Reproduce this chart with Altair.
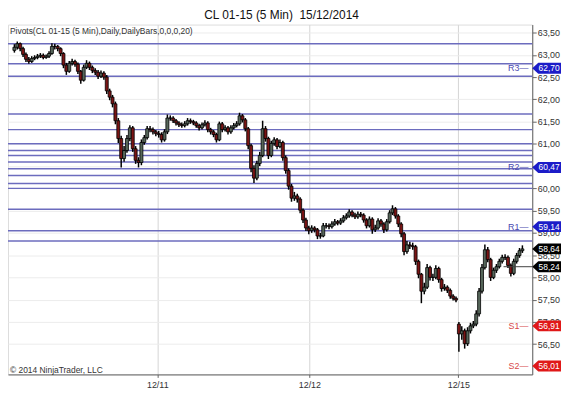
import altair as alt
import pandas as pd

# ---------------- data ----------------
closes = [
    63.17, 63.25, 63.14, 63.01, 62.90, 62.85, 62.92, 62.94, 62.97, 62.99,
    62.94, 62.97, 63.03, 63.19, 63.19, 63.14, 63.03, 62.77, 62.63, 62.81,
    62.85, 62.79, 62.63, 62.43, 62.72, 62.81, 62.72, 62.65, 62.61, 62.52,
    62.59, 62.50, 62.19, 62.05, 61.90, 61.52, 61.12, 60.67, 60.85, 61.12,
    61.36, 60.89, 60.63, 60.58, 61.03, 61.14, 61.34, 61.32, 61.27, 61.23,
    61.21, 61.09, 61.27, 61.58, 61.58, 61.52, 61.47, 61.43, 61.41, 61.45,
    61.52, 61.50, 61.47, 61.41, 61.36, 61.43, 61.47, 61.32, 61.27, 61.21,
    61.09, 61.45, 61.32, 61.36, 61.27, 61.36, 61.41, 61.45, 61.63, 61.54,
    61.34, 60.96, 60.45, 60.23, 60.56, 60.74, 61.34, 61.12, 60.74, 61.01,
    61.09, 60.94, 61.03, 60.69, 60.40, 60.05, 59.78, 59.83, 59.76, 59.51,
    59.29, 59.11, 59.05, 59.11, 59.07, 58.93, 58.93, 59.16, 59.16, 59.14,
    59.20, 59.25, 59.22, 59.27, 59.34, 59.38, 59.47, 59.40, 59.36, 59.42,
    59.40, 59.29, 59.16, 59.31, 59.07, 59.11, 59.27, 59.20, 59.07, 59.25,
    59.45, 59.54, 59.38, 59.20, 58.98, 58.58, 58.73, 58.71, 58.69, 58.36,
    58.07, 57.69, 57.78, 58.22, 58.00, 58.00, 58.20, 57.95, 57.75, 57.78,
    57.71, 57.58, 57.53, 57.49, 56.73, 56.80, 56.51, 56.80, 56.91, 56.95,
    57.18, 57.69, 58.22, 58.62, 58.40, 58.00, 58.16, 58.24, 58.36, 58.45,
    58.45, 58.27, 58.09, 58.36, 58.49, 58.60, 58.64,
]
highs = [
    63.24, 63.30, 63.28, 63.18, 63.05, 62.95, 62.97, 62.99, 63.02, 63.04,
    63.03, 63.01, 63.08, 63.26, 63.25, 63.22, 63.17, 63.06, 62.82, 62.86,
    62.91, 62.89, 62.83, 62.66, 62.78, 62.88, 62.85, 62.76, 62.70, 62.66,
    62.65, 62.63, 62.55, 62.24, 62.10, 61.95, 61.58, 61.18, 60.95, 61.20,
    61.42, 61.40, 60.95, 60.70, 61.10, 61.20, 61.40, 61.40, 61.37, 61.31,
    61.29, 61.26, 61.33, 61.66, 61.64, 61.62, 61.56, 61.51, 61.48, 61.51,
    61.58, 61.57, 61.54, 61.51, 61.45, 61.48, 61.53, 61.51, 61.36, 61.31,
    61.25, 61.50, 61.49, 61.42, 61.40, 61.42, 61.47, 61.51, 61.70, 61.67,
    61.58, 61.38, 61.00, 60.52, 60.62, 60.82, 61.52, 61.40, 61.16, 61.07,
    61.15, 61.13, 61.10, 61.07, 60.74, 60.45, 60.10, 59.92, 59.88, 59.80,
    59.55, 59.34, 59.16, 59.17, 59.15, 59.11, 59.00, 59.22, 59.22, 59.21,
    59.26, 59.31, 59.29, 59.33, 59.40, 59.44, 59.53, 59.51, 59.45, 59.48,
    59.47, 59.44, 59.33, 59.37, 59.35, 59.18, 59.33, 59.31, 59.24, 59.31,
    59.51, 59.62, 59.58, 59.42, 59.24, 59.02, 58.82, 58.80, 58.78, 58.73,
    58.40, 58.10, 57.88, 58.30, 58.26, 58.08, 58.27, 58.24, 57.99, 57.85,
    57.82, 57.75, 57.62, 57.57, 57.00, 56.90, 56.85, 56.88, 56.98, 57.02,
    57.26, 57.76, 58.30, 58.74, 58.68, 58.44, 58.22, 58.30, 58.42, 58.51,
    58.52, 58.49, 58.31, 58.42, 58.55, 58.66, 58.72,
]
lows = [
    63.05, 63.12, 63.08, 62.95, 62.84, 62.80, 62.82, 62.88, 62.90, 62.93,
    62.90, 62.91, 62.93, 63.00, 63.12, 63.08, 62.97, 62.70, 62.55, 62.60,
    62.76, 62.73, 62.57, 62.35, 62.40, 62.68, 62.66, 62.59, 62.55, 62.46,
    62.48, 62.44, 62.12, 61.98, 61.82, 61.44, 61.02, 60.47, 60.60, 60.80,
    61.06, 60.82, 60.55, 60.47, 60.52, 60.98, 61.10, 61.26, 61.21, 61.17,
    61.14, 61.03, 61.05, 61.22, 61.52, 61.47, 61.41, 61.38, 61.36, 61.37,
    61.41, 61.45, 61.42, 61.36, 61.30, 61.32, 61.39, 61.26, 61.21, 61.15,
    61.03, 61.06, 61.26, 61.28, 61.21, 61.23, 61.32, 61.37, 61.41, 61.48,
    61.28, 60.88, 60.36, 60.12, 60.18, 60.50, 60.70, 61.05, 60.66, 60.70,
    60.96, 60.88, 60.90, 60.62, 60.33, 59.97, 59.70, 59.72, 59.68, 59.44,
    59.22, 59.04, 58.97, 59.00, 59.01, 58.86, 58.87, 58.90, 59.10, 59.08,
    59.10, 59.16, 59.17, 59.18, 59.23, 59.30, 59.34, 59.35, 59.31, 59.32,
    59.35, 59.23, 59.10, 59.12, 58.98, 59.02, 59.07, 59.14, 59.00, 59.03,
    59.21, 59.40, 59.32, 59.13, 58.90, 58.50, 58.53, 58.64, 58.62, 58.28,
    57.98, 57.42, 57.62, 57.74, 57.93, 57.92, 57.96, 57.88, 57.68, 57.70,
    57.65, 57.52, 57.48, 57.44, 56.33, 56.60, 56.40, 56.46, 56.74, 56.86,
    56.90, 57.12, 57.64, 58.18, 58.34, 57.92, 57.96, 58.10, 58.20, 58.31,
    58.39, 58.21, 58.02, 58.05, 58.31, 58.44, 58.55,
]
first_open = 63.10
session_opens = {154: 56.95}          # first bar after the weekend gap

pivot_levels = [63.25, 62.80, 62.52, 61.67, 61.32, 61.00, 60.85, 60.74,
                60.59, 60.44, 60.29, 60.11, 60.00, 59.53, 59.05, 58.82]

tag_values = [62.70, 60.47, 59.14, 58.64, 58.24, 56.91, 56.01]
tag_texts = ["62,70", "60,47", "59,14", "58,64", "58,24", "56,91", "56,01"]
tag_colors = ["#1c1cc8", "#1c1cc8", "#1c1cc8", "#000000", "#000000", "#e01818", "#e01818"]

side_names = ["R3", "R2", "R1", "S1", "S2"]
side_values = [62.70, 60.47, 59.14, 56.91, 56.01]
side_colors = ["#4a4ab0", "#4a4ab0", "#4a4ab0", "#d84848", "#d84848"]

y_ticks = [56.5, 57.0, 57.5, 58.0, 58.5, 59.0, 59.5, 60.0, 60.5,
           61.0, 61.5, 62.0, 62.5, 63.0, 63.5]
date_labels = ["12/11", "12/12", "12/15"]
date_pos = [49.5, 102.2, 153.8]

title_text = "CL 01-15 (5 Min)\u00a0\u00a015/12/2014"
indicator_text = "Pivots(CL 01-15 (5 Min),Daily,DailyBars,0,0,0,20)"
copyright_text = "\u00a9 2014 NinjaTrader, LLC"

# ---------------- tables ----------------
opens = [first_open] + closes[:-1]
for k, v in session_opens.items():
    opens[k] = v
bars = pd.DataFrame({
    "i": list(range(len(closes))),
    "open": opens, "close": closes, "high": highs, "low": lows,
})
bars["dir"] = ["up" if c >= o else "down" for o, c in zip(opens, closes)]

piv = pd.DataFrame({"level": pivot_levels})
tags = pd.DataFrame({"v": tag_values, "t": tag_texts, "c": tag_colors})
sides = pd.DataFrame({"v": side_values, "t": [n + "\u2014" for n in side_names], "c": side_colors})

FONT = "Liberation Sans"
W, H = 529, 353
xs = alt.Scale(domain=[-0.5, 177.7], nice=False, zero=False)
ys = alt.Scale(domain=[55.82, 63.68], nice=False, zero=False)

label_expr = " : ".join(
    f"abs(datum.value - {p}) < 0.01 ? '{l}'" for p, l in zip(date_pos, date_labels)
) + " : ''"

x_axis = alt.Axis(values=date_pos, labelExpr=label_expr, grid=True, gridColor="#d4d4d4",
                  tickSize=3, tickColor="#666", domainColor="#606060", labelPadding=3,
                  labelFontSize=9, labelColor="#333", labelFont=FONT, title=None)
y_axis = alt.Axis(orient="right", values=y_ticks,
                  labelExpr="replace(format(datum.value, '.2f'), '.', ',')",
                  grid=True, gridColor="#ececec", tickSize=4, tickColor="#666",
                  domainColor="#606060", labelPadding=1, labelFontSize=9,
                  labelColor="#333", labelFont=FONT, title=None)


def X(field):
    return alt.X(field, scale=xs, axis=x_axis)


def Y(field):
    return alt.Y(field, scale=ys, axis=y_axis)


pivots = alt.Chart(piv).mark_rule(color="#6c6cbe", strokeWidth=1.5).encode(y=Y("level:Q"))

wicks = alt.Chart(bars).mark_rule(color="#000000", strokeWidth=1.5).encode(
    x=X("i:Q"), y=Y("low:Q"), y2="high:Q",
)
bodies = alt.Chart(bars).mark_bar(width=3, stroke="#000000", strokeWidth=0.8).encode(
    x=X("i:Q"), y=Y("open:Q"), y2="close:Q",
    color=alt.Color("dir:N", scale=alt.Scale(domain=["up", "down"], range=["#56665a", "#7a1414"]), legend=None),
)

mark_line = alt.Chart(pd.DataFrame({"v": [58.24]})).mark_rule(color="#404040", strokeWidth=1).encode(
    x=alt.value(500), x2=alt.value(529), y=Y("v:Q")
)

tag_shape = "M -1 0 L -0.58 -0.38 L 1 -0.38 L 1 0.38 L -0.58 0.38 Z"
tag_marks = alt.Chart(tags).mark_point(shape=tag_shape, filled=True, size=841, opacity=1, strokeWidth=0).encode(
    x=alt.value(543.5), y=Y("v:Q"), color=alt.Color("c:N", scale=None)
)
tag_text = alt.Chart(tags).mark_text(color="white", fontSize=8.5, font=FONT, align="center", baseline="middle").encode(
    x=alt.value(546), y=Y("v:Q"), text="t:N"
)
side_text = alt.Chart(sides).mark_text(fontSize=9, font=FONT, align="right", baseline="middle").encode(
    x=alt.value(525), y=Y("v:Q"), text="t:N", color=alt.Color("c:N", scale=None)
)

title = alt.Chart(pd.DataFrame({"t": [title_text]})).mark_text(
    fontSize=12, font=FONT, color="#111", align="center", baseline="alphabetic"
).encode(x=alt.value(276), y=alt.value(-6), text="t:N")
indicator = alt.Chart(pd.DataFrame({"t": [indicator_text]})).mark_text(
    fontSize=8.5, font=FONT, color="#333", align="left", baseline="middle"
).encode(x=alt.value(2), y=alt.value(6), text="t:N")
copyright = alt.Chart(pd.DataFrame({"t": [copyright_text]})).mark_text(
    fontSize=8.5, font=FONT, color="#333", align="left", baseline="middle"
).encode(x=alt.value(2), y=alt.value(H - 4), text="t:N")

chart = alt.layer(
    pivots, wicks, bodies, mark_line, side_text, tag_marks, tag_text, title, indicator, copyright
).properties(
    width=W, height=H, autosize="none",
    padding={"left": 0, "top": 15, "right": 29, "bottom": 15},
).configure_view(stroke="#606060", strokeWidth=1).configure(background="white")

chart.save("out.html", embed_options={"renderer": "svg", "actions": False})
